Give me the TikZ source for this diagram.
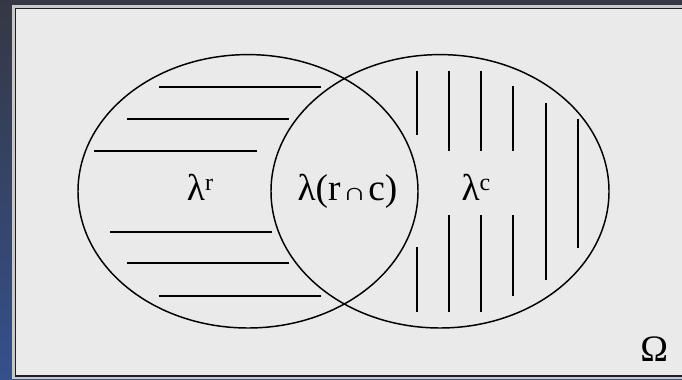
\documentclass[tikz,border=0pt]{standalone}
\usepackage{fontspec}
\setmainfont{Liberation Serif}
\definecolor{bgtop}{HTML}{353844}
\definecolor{bgbot}{HTML}{35508C}
\definecolor{panel}{HTML}{EAEAEA}
\definecolor{framelight}{HTML}{C8C8C8}
\definecolor{framedark}{HTML}{1E1E1E}
\newcommand{\supx}[1]{\raisebox{7.5pt}{\fontsize{18}{20}\selectfont #1}}
\newcommand{\capx}{\hspace{1.5pt}\scalebox{0.95}[0.7]{\fontsize{26}{28}\selectfont ∩}\hspace{1.5pt}}
\tikzset{
  hatch/.style={line width=1.5pt, draw=black},
  setline/.style={line width=1.1pt, draw=black},
  lbl/.style={font=\fontsize{28}{32}\selectfont, inner sep=0pt, anchor=base}
}
\begin{document}
\begin{tikzpicture}[x=0.75pt,y=-0.75pt]
\useasboundingbox (0,0) rectangle (682,379);
% background
\shade[top color=bgtop, bottom color=bgbot] (0,0) rectangle (682,379);
\fill[bgtop] (0,0) rectangle (682,5);
% panel with bevel frame
\fill[framelight] (12,5) rectangle (682,379);
\fill[framedark] (14.5,7.5) rectangle (682,376.5);
\fill[panel] (16,9) rectangle (682,374.5);
% ellipses
\draw[setline] (248,191.3) ellipse [x radius=170, y radius=136.7];
\draw[setline] (440,191.3) ellipse [x radius=169, y radius=136.7];
% horizontal hatching (left)
\draw[hatch] (159,86.7) -- (321,86.7);
\draw[hatch] (126.7,119.3) -- (288.7,119.3);
\draw[hatch] (94.3,150.7) -- (256.7,150.7);
\draw[hatch] (110,231.7) -- (272.3,231.7);
\draw[hatch] (126.7,263.3) -- (288.7,263.3);
\draw[hatch] (159,296) -- (321,296);
% vertical hatching (right)
\draw[hatch] (417.3,70.7) -- (417.3,135);
\draw[hatch] (417.3,247.3) -- (417.3,312.3);
\draw[hatch] (449,70.7) -- (449,150.7);
\draw[hatch] (449,215.3) -- (449,312.3);
\draw[hatch] (481.3,70.7) -- (481.3,150.7);
\draw[hatch] (481.3,215.3) -- (481.3,312.3);
\draw[hatch] (513.3,86) -- (513.3,150.7);
\draw[hatch] (513.3,215.3) -- (513.3,296);
\draw[hatch] (545.7,102.7) -- (545.7,280);
\draw[hatch] (577.7,118.7) -- (577.7,248.3);
% labels
\node[lbl] (lr) at (200,200.7) {λ\supx{r}};
\node[lbl] (lrc) at (347.5,200.7) {λ(r\capx c)};
\node[lbl] (lc) at (476,200.7) {λ\supx{c}};
\node[lbl] (om) at (654.3,361) {Ω};
\end{tikzpicture}
\end{document}
